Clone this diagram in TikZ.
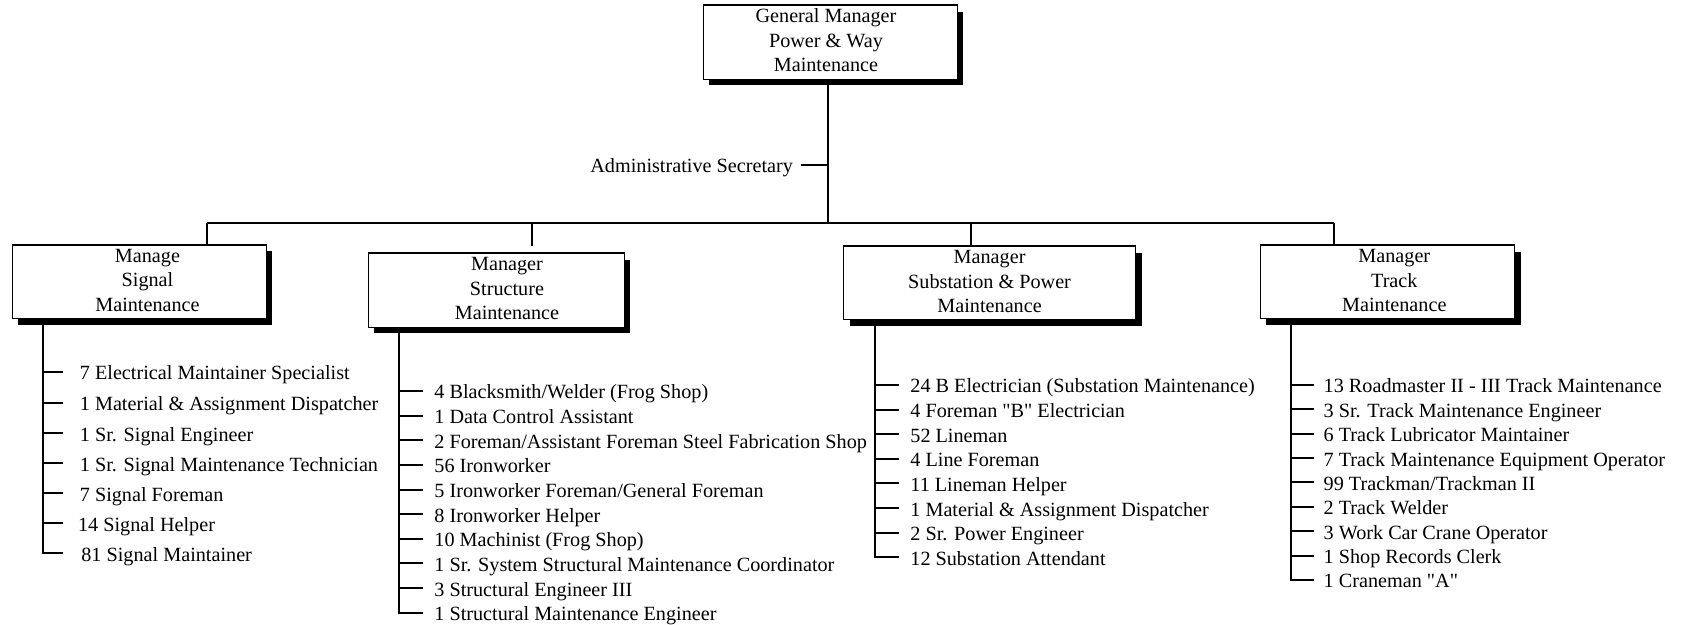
\documentclass[tikz,border=0pt]{standalone}
\usepackage{fontspec}
\setmainfont{Liberation Serif}[Ligatures=TeXOff]
\usetikzlibrary{shadows}
\newcommand{\boxtext}[2]{\hspace*{#1}\begin{tabular}{@{}c@{}}#2\end{tabular}}
\begin{document}
\begin{tikzpicture}[x=0.5pt,y=-0.5pt,
  every node/.style={font=\fontsize{10.1}{12.2}\selectfont},
  mbox/.style={draw, line width=0.5pt, fill=white, inner sep=0pt,
    drop shadow={shadow xshift=3pt,shadow yshift=-3pt,opacity=1,fill=black}},
  item/.style={inner sep=0pt, anchor=west, text height=9pt, text depth=1pt},
  conn/.style={line width=1pt}]
\useasboundingbox (0,0) rectangle (1683,625);

% boxes
\node[mbox, minimum width=127pt, minimum height=34.5pt] (top) at (830,42.5)
  {\boxtext{-4pt}{General Manager\\Power \& Way\\Maintenance}};
\node[mbox, minimum width=127pt, minimum height=34pt] (b1) at (139,282)
  {\boxtext{8.5pt}{Manage\\Signal\\Maintenance}};
\node[mbox, minimum width=128pt, minimum height=33.5pt] (b2) at (496,290.5)
  {\boxtext{11pt}{Manager\\Structure\\Maintenance}};
\node[mbox, minimum width=146pt, minimum height=35pt] (b3) at (989.6,283.4)
  {\boxtext{0pt}{Manager\\Substation \& Power\\Maintenance}};
\node[mbox, minimum width=127.25pt, minimum height=34.5pt] (b4) at (1387.3,282.2)
  {\boxtext{7pt}{Manager\\Track\\Maintenance}};
\foreach \b in {top,b1,b2,b3,b4}
  \draw[line width=1.1pt] (\b.north west) -- (\b.north east);

% trunk, secretary, bus
\coordinate (tr) at (828.3,223.3);
\draw[conn] (top.south -| tr) -- (tr);
\node[item, anchor=east] (adm) at (793.3,165) {Administrative Secretary};
\draw[conn] ([xshift=3.7pt]adm.east) -- (adm.east -| tr);
\coordinate (d1) at (207,223.3);
\coordinate (d2) at (531.5,223.3);
\coordinate (d3) at (971.3,223.3);
\coordinate (d4) at (1334,223.3);
\draw[conn] (d1) -- (d4);
\draw[conn] (d1) -- (d1 |- b1.north);
\draw[conn] (d2) -- ([yshift=3.5pt]d2 |- b2.north);
\draw[conn] (d3) -- (d3 |- b3.north);
\draw[conn] (d4) -- (d4 |- b4.north);

% signal list
\coordinate (sgx) at (42.7,0);
\coordinate (sge) at (63.3,0);
\node[item] (sg0) at (79.5,371.7) {7 Electrical Maintainer Specialist};
\node[item] (sg1) at (79.5,402.7) {1 Material \& Assignment Dispatcher};
\node[item] (sg2) at (79.5,433.3) {1 Sr. Signal Engineer};
\node[item] (sg3) at (79.5,463.3) {1 Sr. Signal Maintenance Technician};
\node[item] (sg4) at (79.5,493.3) {7 Signal Foreman};
\node[item] (sg5) at (77.7,523.3) {14 Signal Helper};
\node[item] (sg6) at (81,553.3) {81 Signal Maintainer};
\foreach \i in {0,...,5}
  \draw[conn] (sg\i.west -| sgx) -- (sg\i.west -| sge);
\draw[conn] (b1.south -| sgx) |- (sg6.west -| sge);

% structure list
\coordinate (stx) at (399.3,0);
\coordinate (ste) at (422.7,0);
\foreach \t [count=\i from 0] in {{4 Blacksmith/Welder (Frog Shop)},
  {1 Data Control Assistant},
  {2 Foreman/Assistant Foreman Steel Fabrication Shop},
  {56 Ironworker},
  {5 Ironworker Foreman/General Foreman},
  {8 Ironworker Helper},
  {10 Machinist (Frog Shop)},
  {1 Sr. System Structural Maintenance Coordinator},
  {3 Structural Engineer III},
  {1 Structural Maintenance Engineer}} {
  \node[item] (st\i) at (434,{391+24.63*\i}) {\t};
  \draw[conn] (st\i.west -| stx) -- (st\i.west -| ste);
}
\draw[conn] (b2.south -| stx) |- (st9.west -| ste);

% substation list
\coordinate (sbx) at (875,0);
\coordinate (sbe) at (899.3,0);
\foreach \t [count=\i from 0] in {{24 B Electrician (Substation Maintenance)},
  {4 Foreman "B" Electrician},
  {52 Lineman},
  {4 Line Foreman},
  {11 Lineman Helper},
  {1 Material \& Assignment Dispatcher},
  {2 Sr. Power Engineer},
  {12 Substation Attendant}} {
  \node[item] (sb\i) at (910,{385+24.61*\i}) {\t};
  \draw[conn] (sb\i.west -| sbx) -- (sb\i.west -| sbe);
}
\draw[conn] (b3.south -| sbx) |- (sb7.west -| sbe);

% track list
\coordinate (tkx) at (1290.7,0);
\coordinate (tke) at (1314,0);
\foreach \t [count=\i from 0] in {{13 Roadmaster II - III Track Maintenance},
  {3 Sr. Track Maintenance Engineer},
  {6 Track Lubricator Maintainer},
  {7 Track Maintenance Equipment Operator},
  {99 Trackman/Trackman II},
  {2 Track Welder},
  {3 Work Car Crane Operator},
  {1 Shop Records Clerk},
  {1 Craneman "A"}} {
  \node[item] (tk\i) at (1323.3,{385+24.375*\i}) {\t};
  \draw[conn] (tk\i.west -| tkx) -- (tk\i.west -| tke);
}
\draw[conn] (b4.south -| tkx) |- (tk8.west -| tke);
\end{tikzpicture}
\end{document}
